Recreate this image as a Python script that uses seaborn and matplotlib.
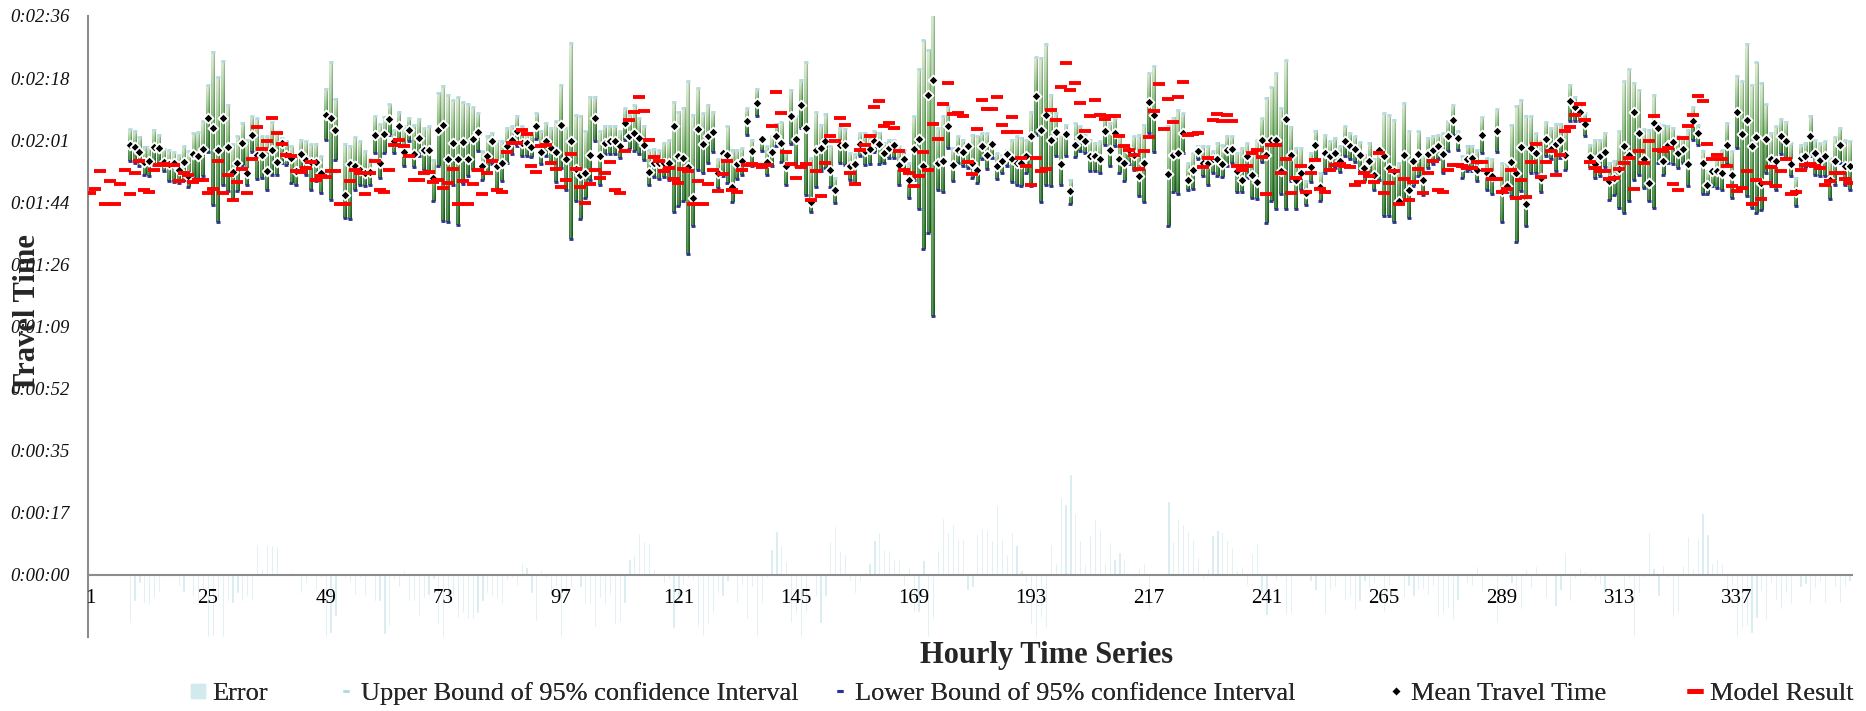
import numpy as np
import pandas as pd
import matplotlib
matplotlib.use("Agg")
import matplotlib.pyplot as plt
import seaborn as sns
from matplotlib.lines import Line2D

N = None
hours = list(range(1, 361))
tick_hours = list(range(1, 361, 24))

upper_bound = (
    [N] * 8 +
    [124.1,123.6,121.9,119.0,119.0,123.9,122.5,118.5,118.3,117.6,116.8,119.3] +
    [117.9,123.0,123.3,126.2,136.4,145.6,138.5,143.1,130.8,120.0] +
    [122.0,125.7,121.1,127.6,127.1,122.0,122.0,125.9,123.0,121.6] +
    [120.6,119.3,116.9,121.1,120.6,119.9,120.0,116.5,135.2,142.8] +
    [132.5,N,120.0,119.3,121.9,120.6,117.9,115.6,127.6,125.5] +
    [127.4,131.0,123.7,128.9,124.8,127.1,125.3,126.8,124.4,124.8] +
    [115.5,134.2,136.1,133.6,132.2,133.1,131.7,131.0,130.2,128.5] +
    [117.9,122.0,123.1,120.6,120.6,124.4,124.8,127.8,124.8,122.5] +
    [123.1,128.5,123.4,125.7,124.4,126.2,136.4,124.4,148.0,128.0] +
    [127.6,123.4,133.1,133.1,123.4,124.8,124.8,124.8,123.4,129.9] +
    [128.0,130.8,127.0,125.0,118.1,118.5,118.3,120.2,121.0,131.7,128.9] +
    [129.9,137.3,128.0,135.5,128.5,130.8,128.9,115.6,117.9] +
    [124.8,118.3,118.1,118.8,129.9,121.1,135.2,121.1,119.3,122.0] +
    [125.5,125.9,117.9,135.0,127.6,137.7,142.8,116.0,128.7,125.3] +
    [128.3,119.3,110.5,124.4,124.1,117.4,117.0,123.1,123.0,122.5] +
    [123.4,123.0,120.2,121.1,121.1,119.3,118.3,114.6,127.8,140.7] +
    [148.9,146.0,160.0,124.4,127.6,130.4,118.8,122.0,121.1,120.0] +
    [122.5,122.0,123.0,123.0,120.6,117.4,116.9,118.3,121.1,122.0] +
    [121.6,121.1,128.9,144.0,143.8,147.8,133.6,128.5,123.0,125.3] +
    [110.0,125.7,124.8,122.5,121.1,120.2,120.6,127.6,125.7,127.1] +
    [122.0,119.7,119.3,122.0,122.5,125.3,139.6,141.5,N,N] +
    [124.8,127.1,129.4,128.5,114.6,117.4,119.3,119.3,119.3,117.9] +
    [120.2,119.5,122.2,122.0,117.4,118.8,120.2,116.9,121.0,127.1] +
    [132.7,135.7,139.6,130.0,143.3,124.6,118.8,118.8,109.5,117.4] +
    [123.6,111.9,122.5,120.6,121.6,119.3,124.8,123.0,122.0,120.4] +
    [116.9,120.2,115.6,118.3,128.5,128.0,126.7,114.6,131.3,123.4] +
    [114.6,123.4,116.5,121.6,122.0,122.5,123.0,126.2,130.8,123.4] +
    [116.5,119.3,119.3,118.3,127.4,116.0,115.6,129.6,114.6,114.4] +
    [125.3,130.6,132.2,127.8,127.6,123.0,120.6,125.9,124.4,125.5] +
    [125.5,124.8,136.4,132.9,130.6,128.5,119.7,121.1,121.1,123.0] +
    [114.6,115.1,123.4,137.5,140.7,137.0,135.0,124.1,123.9,133.6] +
    [125.7,125.3,124.8,124.4,122.0,121.6,123.9,130.2,125.3,117.9] +
    [112.3,112.8,116.0,118.3,125.7,117.9,138.9,137.3,147.8,136.4] +
    [142.8,136.8,131.1,123.0,124.8,126.8,125.9,120.2,110.5,119.7] +
    [120.2,127.8,121.1,120.2,120.6,116.0,121.8,124.4,121.1,120.6]
)

mean_time = (
    [N] * 8 +
    [119.5,119.2,117.6,114.9,115.1,119.2,118.8,114.9,114.2,114.6,112.8,114.9] +
    [111.0,117.2,116.5,118.6,127.1,124.3,118.3,127.1,119.0,112.1] +
    [114.6,120.2,111.7,122.5,116.9,116.9,112.4,118.2,114.9,120.2] +
    [116.9,116.0,112.5,117.2,115.5,114.8,114.8,111.9,127.9,127.0] +
    [123.9,N,105.6,114.2,113.7,112.6,111.9,112.0,122.5,114.6] +
    [122.7,126.9,120.6,124.9,117.6,123.9,117.2,121.6,118.3,118.2] +
    [110.4,123.9,125.3,115.8,120.2,115.6,120.4,115.8,121.3,123.2] +
    [113.9,116.5,120.6,113.7,114.6,119.3,121.1,123.4,120.2,120.2] +
    [119.0,124.9,117.6,120.6,118.8,117.6,125.3,115.8,120.6,113.0] +
    [111.4,111.7,116.9,127.1,116.7,120.2,120.6,120.6,119.3,125.7] +
    [122.2,123.1,121.5,119.5,112.1,114.6,114.6,114.6,114.6,124.9,116.5] +
    [116.0,113.4,105.0,124.2,120.0,122.2,123.2,111.9,117.4] +
    [116.8,108.0,114.2,115.3,126.2,117.9,131.3,121.3,114.8,117.6] +
    [122.2,120.2,113.7,127.6,121.3,130.8,124.3,103.8,118.3,118.8] +
    [120.6,112.8,107.0,119.5,119.5,113.7,114.2,120.0,117.9,118.6] +
    [120.6,119.9,117.4,118.8,119.5,114.0,115.8,110.0,118.5,121.3] +
    [113.7,133.4,137.8,114.6,115.1,124.9,114.0,118.3,117.6,119.3] +
    [114.6,112.8,119.3,116.9,120.0,113.7,115.1,117.2,115.8,114.6] +
    [114.6,116.5,122.0,133.3,123.9,128.0,121.1,123.2,114.4,122.7] +
    [106.8,119.7,121.9,120.6,116.7,116.5,115.6,123.4,118.1,123.1] +
    [115.8,114.6,118.2,116.9,111.1,114.6,131.5,128.0,N,N] +
    [111.6,116.9,117.4,123.1,110.0,112.6,117.9,114.6,114.6,115.6] +
    [115.8,114.4,118.2,118.5,112.3,110.0,116.5,111.2,109.3,121.1] +
    [116.9,121.0,121.0,112.5,126.9,116.9,110.0,111.9,106.3,113.4] +
    [119.5,108.0,117.4,116.7,117.4,115.1,120.6,119.3,118.5,116.8] +
    [113.2,115.3,111.4,118.2,116.5,113.2,112.4,104.0,116.9,107.0] +
    [115.3,117.2,110.0,117.2,118.1,119.3,117.1,122.2,126.5,121.6] +
    [113.7,115.8,115.9,112.6,122.5,111.9,110.9,123.6,106.8,108.2] +
    [114.9,111.7,119.2,103.3,118.8,117.4,110.5,121.3,118.6,119.9] +
    [121.1,116.9,132.0,130.2,128.9,125.5,116.2,114.4,116.7,117.6] +
    [109.6,110.5,113.0,119.3,116.9,128.8,123.0,115.8,109.1,125.7] +
    [124.3,115.3,119.5,120.4,117.4,118.5,114.2,126.2,123.0,114.6] +
    [108.6,112.3,112.3,111.9,119.7,111.4,128.7,122.7,126.5,119.3] +
    [121.9,109.1,121.3,115.8,115.1,122.0,120.8,114.2,106.5,116.0] +
    [116.7,122.2,117.4,115.5,116.7,110.0,115.1,119.7,113.9,113.9]
)

lower_bound = (
    [N] * 8 +
    [115.3,114.6,113.7,111.2,110.9,114.0,114.5,112.3,109.7,109.4,109.1,110.0] +
    [107.9,110.5,110.3,110.9,117.8,102.9,98.2,108.4,106.8,104.5] +
    [106.8,114.0,108.5,117.7,110.3,110.5,107.2,111.4,111.2,114.6] +
    [114.0,109.1,108.6,112.3,111.2,107.1,109.5,106.3,120.9,104.3] +
    [115.4,N,99.4,98.9,107.2,108.6,108.2,108.6,117.4,110.5] +
    [117.4,122.5,117.4,119.7,113.7,120.6,113.5,116.5,112.8,112.0] +
    [104.0,113.7,98.5,98.2,108.6,97.5,108.7,110.9,112.8,118.0] +
    [110.0,111.7,114.4,107.2,109.5,114.6,117.2,119.3,116.5,116.5] +
    [116.3,121.3,114.2,116.5,114.6,109.4,113.2,107.1,93.4,104.0] +
    [98.9,104.9,110.0,120.6,108.6,117.0,117.0,117.0,116.0,121.1] +
    [118.6,118.0,117.0,115.5,108.6,110.6,110.3,110.6,110.0,101.0,102.6] +
    [104.0,89.4,97.0,112.8,111.9,114.6,117.6,107.7,110.9] +
    [109.1,103.7,110.3,111.4,122.5,113.7,127.6,118.0,111.4,113.7] +
    [119.3,114.8,108.4,119.9,113.7,124.3,105.6,101.0,108.0,112.3] +
    [113.2,108.0,103.4,114.6,114.0,110.0,109.0,116.7,114.0,114.4] +
    [117.6,114.2,114.6,116.0,116.0,108.6,112.8,104.9,110.0,101.7] +
    [90.8,95.0,72.1,107.2,106.6,118.8,109.5,114.6,113.7,113.2] +
    [110.5,109.1,115.8,113.0,116.0,110.3,111.9,113.7,109.3,108.6] +
    [108.2,111.9,108.2,122.5,103.7,108.4,108.2,116.5,108.4,116.5] +
    [103.3,116.3,118.0,117.4,112.3,112.3,111.7,119.7,113.7,119.3] +
    [111.9,109.5,114.2,112.8,105.4,103.7,123.0,117.7,N,N] +
    [97.1,106.5,105.9,117.4,107.2,107.4,115.6,110.9,108.6,111.9] +
    [110.9,110.8,113.7,114.6,106.5,106.5,110.5,104.9,104.7,114.9] +
    [97.8,104.0,101.9,106.0,101.9,109.5,101.7,107.2,102.8,109.3] +
    [115.6,104.0,111.9,112.8,113.2,112.1,116.5,115.6,114.9,112.8] +
    [109.5,110.9,107.2,110.0,99.9,99.9,98.2,103.1,104.2,99.4] +
    [108.2,110.9,105.6,113.2,114.2,115.6,111.9,118.0,122.5,118.3] +
    [110.5,112.3,112.3,109.5,117.4,107.2,105.9,117.7,98.2,106.5] +
    [105.4,92.7,106.8,97.1,111.9,111.9,106.5,116.7,115.6,112.3] +
    [116.0,112.8,126.2,126.2,126.2,122.0,113.2,110.5,110.9,113.5] +
    [104.2,105.6,102.1,100.8,104.0,110.0,111.4,107.7,104.0,102.1] +
    [114.6,111.4,114.5,114.2,113.2,114.6,108.2,121.1,119.7,105.9] +
    [105.9,108.2,107.7,107.2,114.2,104.9,118.8,107.7,105.4,102.1] +
    [100.8,101.4,111.9,108.2,107.2,117.0,115.6,110.9,102.6,112.6] +
    [113.2,116.5,111.4,111.1,110.9,104.5,108.6,114.6,108.6,107.2]
)

model_result = (
    [106.3,107.4,112.3,103.1,109.5,103.3,108.9,112.6] +
    [106.1,111.8,115.3,107.2,106.5,112.6,114.0,114.2,114.0,114.0,109.5,111.9] +
    [111.4,109.4,109.8,109.8,106.3,107.4,115.3,106.3,111.4,104.2] +
    [109.3,113.0,106.3,115.6,124.5,118.5,120.8,127.1,123.0,119.9] +
    [116.9,116.7,112.5,112.1,113.1,114.8,109.8,111.0,110.6,112.3] +
    [112.5,103.3,103.3,109.5,112.6,111.7,106.1,111.8,115.3,107.0] +
    [106.5,112.8,119.5,121.0,119.3,116.5,110.0,110.0,111.9,112.0] +
    [109.3,110.0,107.7,109.0,113.0,103.1,109.5,103.3,108.8,112.6] +
    [106.1,111.7,115.3,107.2,106.5,117.6,120.2,120.2,123.9,122.8] +
    [113.7,112.1,119.3,119.5,114.5,113.0,108.0,109.8,117.2,113.0] +
    [107.9,103.6,108.8,112.8,110.4,111.8,115.0,107.0,106.3,118.0] +
    [126.6,128.9,133.1,129.0,121.1,116.3,115.1,112.3,113.2,110.1,109.1] +
    [113.0,112.5,103.3,109.5,103.3,108.9,112.8,106.8,111.6] +
    [115.3,107.2,106.5,112.6,114.0,114.4,114.0,113.4,114.0,124.8] +
    [134.5,128.5,117.7,114.2,110.5,113.5,114.2,104.4,112.3,105.4] +
    [114.5,122.2,120.6,127.1,125.3,111.9,108.8,118.1,119.6,122.0] +
    [130.3,131.9,124.8,125.7,124.3,117.9,112.8,111.9,108.3,111.1] +
    [117.7,112.6,125.5,121.4,131.0,136.8,128.2,128.5,127.6,114.9] +
    [111.6,124.1,132.2,129.6,129.7,132.9,125.3,123.3,127.3,123.2] +
    [115.9,113.7,108.4,116.0,112.3,113.0,129.4,126.7,135.9,142.4] +
    [134.9,137.0,131.3,123.6,127.8,132.2,128.0,126.9,127.8,127.6] +
    [122.2,119.3,118.3,116.9,113.0,117.9,121.9,129.1,136.6,124.0] +
    [132.4,125.9,133.1,137.1,122.5,122.7,123.0,113.5,116.0,126.5] +
    [128.3,126.2,127.9,126.2,113.7,112.8,113.7,117.4,118.2,116.2] +
    [106.0,119.5,119.5,111.9,115.7,106.3,110.5,113.7,106.6,111.9] +
    [115.4,107.4,106.5,112.6,114.0,114.2,113.7,113.4,108.6,109.3] +
    [111.7,111.1,109.3,117.5,106.3,109.0,112.4,103.1,110.3,104.2] +
    [109.3,113.0,106.3,111.9,115.3,107.1,106.5,112.6,114.0,114.0] +
    [113.7,113.2,113.2,114.9,114.9,112.8,110.2,110.2,106.6,107.5] +
    [112.8,105.0,109.8,105.1,114.9,119.9,110.7,114.8,117.9,111.2] +
    [116.9,123.4,124.6,128.0,131.1,126.5,114.9,113.2,112.3,112.3] +
    [110.2,110.5,113.0,114.5,116.0,107.5,117.9,114.6,120.8,127.8] +
    [118.1,118.0,118.8,108.8,107.2,121.6,124.8,128.0,133.3,131.9] +
    [120.0,115.7,116.9,115.6,113.7,108.2,106.8,107.7,112.5,103.3] +
    [110.0,104.5,109.1,113.4,108.1,112.4,115.6,106.0,106.5,112.6] +
    [114.0,114.2,113.7,113.2,108.6,109.5,111.9,111.9,110.2,109.1]
)

error = (
    [N] * 8 +
    [-13.5,-7.4,-2.3,-7.9,-8.5,-6.3,-4.8,-0.6,-0.3,-0.2,-3.2,-4.8] +
    [0.3,-6.0,-7.0,-4.2,-17.3,-16.9,-7.0,-17.3,-7.4,-7.9] +
    [-5.1,-7.2,-5.8,-7.0,8.6,1.6,8.4,8.4,8.1,0.0] +
    [0.0,0.7,0.0,-5.1,-2.3,0.0,-4.2,-0.9,-17.3,-16.1] +
    [-11.3,N,-1.0,-2.3,-5.6,-0.9,-5.8,0.0,-7.2,-7.4] +
    [-16.4,-14.1,-1.4,-3.4,1.4,-7.4,-7.2,-11.3,-6.5,-5.6] +
    [-1.1,-13.7,-17.3,-7.0,-6.0,-12.1,-10.7,-12.3,-12.3,-10.7] +
    [-7.4,-5.1,-5.8,-6.5,-8.1,-1.4,-0.9,-3.2,3.2,2.3] +
    [-5.1,-12.7,1.4,-0.9,-5.1,-3.2,-17.2,-6.0,-3.4,0.0] +
    [-3.5,-8.1,-8.1,-14.4,-6.3,-8.5,-5.6,-13.6,-13.0,-7.7] +
    [4.4,5.8,11.6,9.5,9.0,1.7,0.5,-2.3,-1.4,-14.8,-7.4] +
    [-2.8,-0.9,-1.4,-14.4,-16.9,-13.7,-10.5,-5.1,-5.8] +
    [-1.6,0.0,-7.9,-2.8,-12.3,-3.5,-17.3,-7.9,-0.9,7.1] +
    [12.2,8.4,4.0,-13.5,-10.7,-17.3,-10.2,0.6,-6.0,-13.5] +
    [-6.0,9.5,13.6,6.7,5.8,-1.6,-5.1,-1.6,1.1,3.4] +
    [9.7,11.9,7.1,7.0,4.5,4.5,-3.2,2.3,-10.2,-10.2] +
    [4.2,-17.3,-12.3,6.8,15.8,11.8,14.2,10.1,10.1,-4.2] +
    [-3.5,11.4,13.0,12.5,9.7,19.5,10.2,5.9,11.8,8.2] +
    [1.4,-2.3,-13.7,-17.3,-11.6,-14.8,8.6,3.2,21.6,19.8] +
    [28.1,17.2,9.7,3.1,11.0,15.6,12.5,3.4,9.1,4.5] +
    [6.3,4.5,0.6,-0.5,1.9,3.2,-9.7,0.3,N,N] +
    [20.7,9.3,15.8,14.1,12.3,9.9,4.9,-1.2,1.9,11.1] +
    [12.5,11.9,9.7,7.7,1.4,2.5,-2.8,6.0,8.8,-4.9] +
    [-11.1,0.0,-1.4,-0.5,-11.1,-10.7,0.0,0.0,0.2,-1.6] +
    [-4.2,-0.5,-10.9,-4.2,-3.4,-0.5,-7.0,-5.8,-9.7,-7.4] +
    [-1.6,-3.7,-2.3,-0.6,-10.2,-3.1,0.0,0.0,-6.5,-3.0] +
    [-6.0,-4.2,-3.9,-5.6,-3.0,-11.6,-10.5,-9.3,-12.5,-7.1] +
    [0.0,-2.3,-3.0,2.5,-4.6,0.5,-0.5,-13.5,-0.6,-0.5] +
    [-2.3,-4.4,-9.6,1.6,-3.7,2.5,0.0,-6.5,0.0,-8.6] +
    [-4.2,6.3,-7.4,-1.1,2.0,1.1,-0.9,-1.4,-2.8,-5.1] +
    [0.5,-0.6,0.0,-5.1,-0.9,-17.3,-5.1,-0.9,11.9,2.0] +
    [-6.0,2.8,-0.9,-11.6,-10.5,2.8,10.7,1.9,10.4,17.2] +
    [11.4,3.2,4.5,3.2,-6.0,-3.2,-17.3,-14.8,-14.2,-16.1] +
    [-12.1,-4.6,-12.5,-2.3,-7.0,-9.6,-5.1,-8.2,0.0,-3.4] +
    [-2.6,-7.9,-3.7,-2.1,-7.9,0.0,-3.5,-7.9,-3.4,-1.6]
)

for name, s in [("upper", upper_bound), ("mean", mean_time), ("lower", lower_bound),
                ("model", model_result), ("error", error)]:
    assert len(s) == 360, (name, len(s))

df = pd.DataFrame({
    "hour": hours,
    "upper": pd.array(upper_bound, dtype="Float64").astype(float),
    "lower": pd.array(lower_bound, dtype="Float64").astype(float),
    "mean": pd.array(mean_time, dtype="Float64").astype(float),
    "model": pd.array(model_result, dtype="Float64").astype(float),
    "error": pd.array(error, dtype="Float64").astype(float),
})

sns.set_theme(style="white")
plt.rcParams["font.family"] = ["Liberation Serif", "DejaVu Serif"]

W, H = 1866, 711
fig = plt.figure(figsize=(W / 100, H / 100), dpi=100)
ax = fig.add_axes([88 / W, 74 / H, 1764 / W, 621 / H])
ax.set_axisbelow(False)

YMIN, YMAX = -17.28, 155.52

# error bars
err = df.dropna(subset=["error"])
sns.barplot(data=err, x="hour", y="error", native_scale=True, width=0.45,
            color="#d2e9ed", saturation=1, errorbar=None, ax=ax, zorder=1)

# gradient cylinders for the confidence interval
ny, nx = 64, 9
t = np.linspace(0, 1, ny)[:, None, None]
top_c = np.array([0.84, 0.92, 0.80])
mid_c = np.array([0.47, 0.71, 0.42])
bot_c = np.array([0.13, 0.43, 0.14])
split = 0.4
base = np.where(t < split, top_c + (mid_c - top_c) * (t / split),
                mid_c + (bot_c - mid_c) * ((t - split) / (1 - split)))
base = np.broadcast_to(base, (ny, nx, 3)).copy()
hh = np.linspace(-1, 1, nx)[None, :, None]
light = 0.30 * np.exp(-((hh + 0.35) / 0.45) ** 2)
dark = 0.30 * np.clip(hh, 0, 1) ** 2
grad = np.clip(base + (1 - base) * light - base * dark, 0, 1)

rng_df = df.dropna(subset=["upper", "lower"])
bw = 0.37
for h, lo, up in zip(rng_df["hour"], rng_df["lower"], rng_df["upper"]):
    ax.imshow(grad, extent=(h - bw, h + bw, lo, up), aspect="auto",
              interpolation="bilinear", zorder=2)

# markers
sns.scatterplot(data=df, x="hour", y="upper", marker="_", s=12, linewidth=2.0,
                color="#b3dbe0", ax=ax, zorder=3)
sns.scatterplot(data=df, x="hour", y="lower", marker="_", s=12, linewidth=2.0,
                color="#2e3192", ax=ax, zorder=3)
sns.scatterplot(data=df, x="hour", y="mean", marker="D", s=26, color="black",
                edgecolor="white", linewidth=1.3, ax=ax, zorder=4)
sns.scatterplot(data=df, x="hour", y="model", marker="_", s=78, linewidth=2.8,
                color="#ff0000", ax=ax, zorder=5)

ax.set_xlim(0.5, 360.5)
ax.set_ylim(YMIN, YMAX)
ax.set_xlabel("")
ax.set_ylabel("")

# spines
for sp in ["top", "right"]:
    ax.spines[sp].set_visible(False)
ax.spines["left"].set_color("#8c8c8c")
ax.spines["left"].set_linewidth(1.5)
ax.spines["bottom"].set_color("#8c8c8c")
ax.spines["bottom"].set_linewidth(1.5)
ax.spines["bottom"].set_position(("data", 0))

# y ticks
yt = np.arange(-1, 10) * 17.28
def fmt(v):
    if v < -0.01:
        return ""
    s = int(round(v))
    return f"{s // 3600}:{(s // 60) % 60:02d}:{s % 60:02d}"
ax.set_yticks(yt, [fmt(v) for v in yt], fontstyle="italic", fontsize=13.5)
ax.tick_params(axis="y", direction="out", length=6, width=1.5, color="#8c8c8c",
               pad=7, labelcolor="#111111")

# x ticks
major_x = np.arange(0.5, 361, 24)
ax.set_xticks(major_x, [""] * len(major_x))
ax.set_xticks(tick_hours, [str(v) for v in tick_hours], minor=True, fontsize=15)
ax.tick_params(axis="x", which="major", direction="out", length=6, width=1.5,
               color="#8c8c8c")
ax.tick_params(axis="x", which="minor", length=0, pad=10, labelcolor="black")
ax.grid(False)

fig.text(28 / W, 1 - 314 / H, "Travel Time", rotation=90, fontsize=22,
         fontweight="bold", ha="center", va="center")
fig.text(1047 / W, 1 - 656 / H, "Hourly Time Series", fontsize=22,
         fontweight="bold", ha="center", va="center")

# legend entries, each placed where Excel put it
entries = [
    (198, Line2D([0], [0], marker="s", ls="none", markersize=10.5,
                 markerfacecolor="#d2e9ed", markeredgecolor="#d2e9ed"), "Error"),
    (346, Line2D([0], [0], marker="_", ls="none", markersize=4, markeredgewidth=2,
                 color="#b3dbe0"), "Upper Bound of 95% confidence Interval"),
    (840, Line2D([0], [0], marker="_", ls="none", markersize=5, markeredgewidth=2.2,
                 color="#2e3192"), "Lower Bound of 95% confidence Interval"),
    (1396, Line2D([0], [0], marker="D", ls="none", markersize=5,
                  markerfacecolor="black", markeredgecolor="white",
                  markeredgewidth=1), "Mean Travel Time"),
    (1695, Line2D([0], [0], marker="_", ls="none", markersize=11,
                  markeredgewidth=3.5, color="#ff0000"), "Model Result"),
]
for cx, handle, label in entries:
    lg = fig.legend([handle], [label], loc="center left",
                    bbox_to_anchor=((cx - 10.5) / W, 18 / H), frameon=False,
                    fontsize=19, handlelength=0.8, handletextpad=0.15,
                    borderpad=0, borderaxespad=0)
    fig.add_artist(lg)

fig.savefig("out.png", dpi=100)
